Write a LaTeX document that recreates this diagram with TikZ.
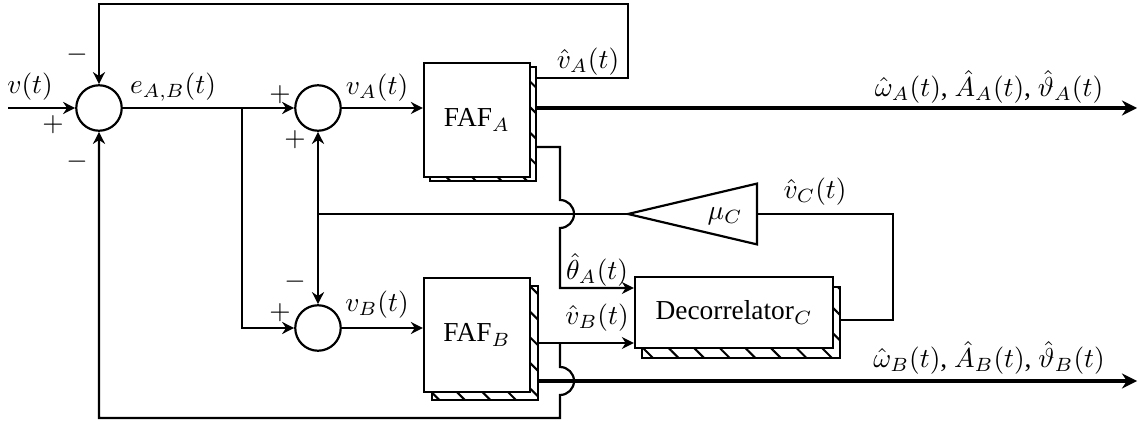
\documentclass[tikz,border=0pt]{standalone}
\usepackage{fontspec}
\setmainfont{Liberation Serif}
\usetikzlibrary{positioning,arrows.meta,shadows,patterns.meta}

\begin{document}
\begin{tikzpicture}[
    x=0.365pt, y=-0.365pt,
    sum/.style={
        circle,
        draw,
        thick,
        fill=white,
        inner sep=0pt,
        minimum size=16.6pt
    },
    block/.style 2 args={
        rectangle,
        draw,
        thick,
        fill=white,
        align=center,
        general shadow={
            shadow xshift=#1,
            shadow yshift=-#2,
            draw,
            thick,
            pattern={Lines[angle=-45, distance=6.6pt, line width=0.75pt]}
        }
    },
    sig/.style={-{Stealth[length=4.4pt, width=4.4pt]}, thick},
    line/.style={thick},
    estim/.style={-{Stealth[length=5.5pt, width=5.5pt]}, line width=1.6pt}
]
\useasboundingbox (0,0) rectangle (1138,421);

\node[sum] (S1) at (99,108) {};
\node[sum] (S2) at (318,108) {};
\node[sum] (S3) at (318,328) {};

\node[block={2.2pt}{1.5pt}, minimum width=38.7pt, minimum height=41.6pt] (FA) at (477,120) {FAF$_A$};
\node[block={2.9pt}{2.9pt}, minimum width=38.7pt, minimum height=41.6pt] (FB) at (477,335) {FAF$_B$};
\node[block={2.6pt}{3.6pt}, minimum width=72.3pt, minimum height=25.9pt] (DC) at (734,312.5) {Decorrelator$_C$};

\coordinate (GT) at (628,214);
\coordinate (GB) at (757,214);
\draw[line] (GT) -- ([yshift=11.1pt]GB) -- ([yshift=-11.1pt]GB) -- cycle;
\node (MU) at (725,216) {$\mu_C$};

\coordinate (IN) at (8,108);
\coordinate (BR) at (242,108);
\coordinate (JN) at (318,214);
\coordinate (TR) at (628,4);
\coordinate (vA) at (537,78);
\coordinate (yA) at (537,108);
\coordinate (thA) at (537,147);
\coordinate (vB) at (537,343);
\coordinate (yB) at (537,381);
\coordinate (TJ) at (560,147);
\coordinate (TI) at (560,288);
\coordinate (BJ) at (560,343);
\coordinate (BL) at (560,418);
\coordinate (vC) at (840,320);
\coordinate (CR) at (893,214);
\coordinate (EA) at (1137,108);
\coordinate (EB) at (1137,381);

\draw[sig] (IN) -- (S1);
\draw[sig] (S1) -- (S2);
\draw[sig] (BR) |- (S3);
\draw[sig] (S2) -- (S2 -| FA.west);
\draw[sig] (S3) -- (S3 -| FB.west);
\draw[line] (GT) -- (JN);
\draw[sig] (JN) -- (S2);
\draw[sig] (JN) -- (S3);
\draw[sig] (vA) -| (TR) -| (S1);
\draw[estim] (yA) -- (EA);
\draw[estim] (yB) -- (EB);
\draw[sig] (thA) -- (TJ) -- ++(0,53) arc[start angle=-90, end angle=90, radius=14] -- (TI) -- (TI -| DC.west);
\draw[sig] (vB) -- (vB -| DC.west);
\draw[sig] (BJ) -- ++(0,24) arc[start angle=-90, end angle=90, radius=14] -- (BL) -| (S1);
\draw[line] (vC) -| (CR) -- (GB);

\node (Lv) at (30,87) {$v(t)$};
\node (P1) at (53,125) {$+$};
\node (M1) at (77,55) {$-$};
\node (M2) at (77,162) {$-$};
\node (Le) at (173,87) {$e_{A,B}(t)$};
\node (P2) at (280,95) {$+$};
\node (P3) at (295,140) {$+$};
\node (M3) at (295,282) {$-$};
\node (P4) at (280,313) {$+$};
\node (LvA) at (377,88) {$v_A(t)$};
\node (LvB) at (377,305) {$v_B(t)$};
\node (LhA) at (588,62) {$\hat{v}_A(t)$};
\node (Lth) at (597,270) {$\hat{\theta}_A(t)$};
\node (LhB) at (597,318) {$\hat{v}_B(t)$};
\node (LhC) at (815,192) {$\hat{v}_C(t)$};
\node (LyA) at (989,87) {$\hat{\omega}_A(t)$, $\hat{A}_A(t)$, $\hat{\vartheta}_A(t)$};
\node (LyB) at (989,358) {$\hat{\omega}_B(t)$, $\hat{A}_B(t)$, $\hat{\vartheta}_B(t)$};

\end{tikzpicture}
\end{document}
